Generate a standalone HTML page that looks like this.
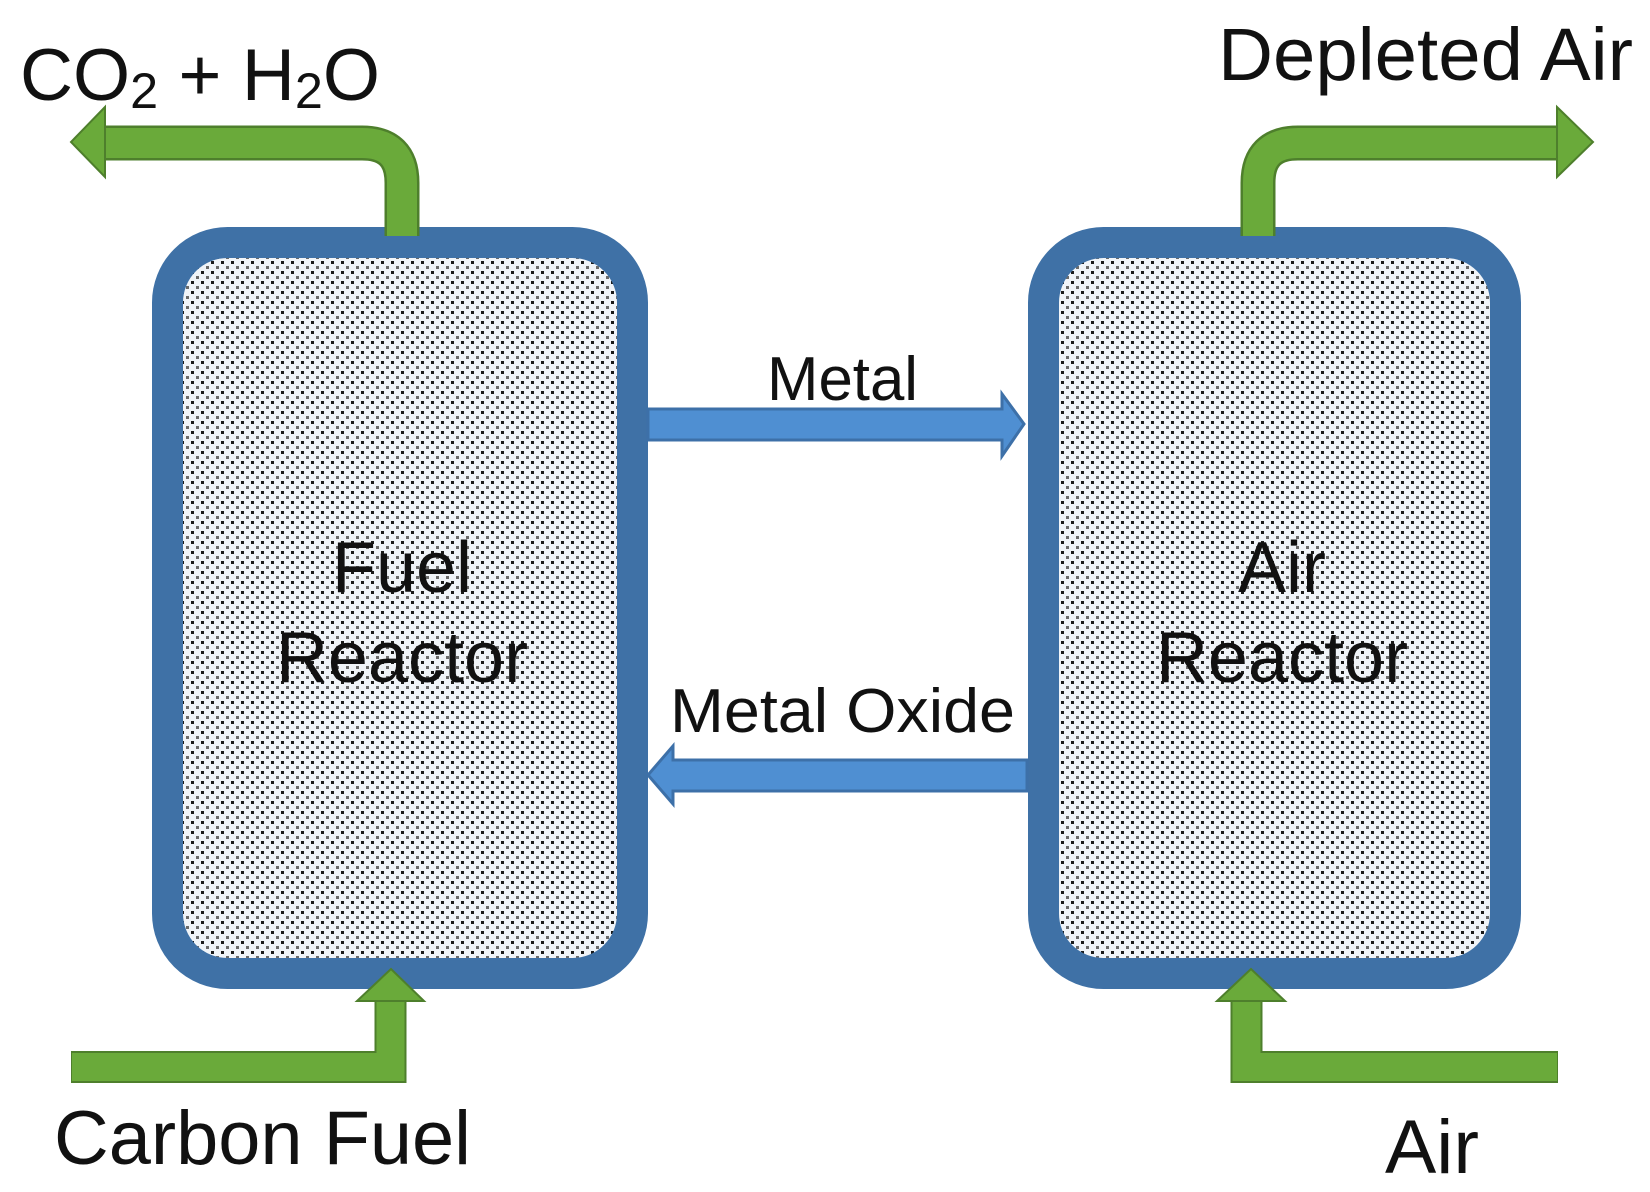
<!DOCTYPE html>
<html><head><meta charset="utf-8"><style>
html,body{margin:0;padding:0;background:#fff;}
svg{display:block;}
text{font-family:"Liberation Sans",Arial,sans-serif;fill:#111;}
</style></head><body>
<svg width="1650" height="1192" viewBox="0 0 1650 1192" xmlns="http://www.w3.org/2000/svg">
<defs>
<pattern id="dots" width="10" height="10" patternUnits="userSpaceOnUse">
<rect width="10" height="10" fill="#f0f4f8"/>
<rect x="1" y="1" width="3" height="3" fill="#1a1a1a"/>
<rect x="6" y="6" width="3" height="3" fill="#6a6a6a"/>
</pattern>
</defs>

<!-- Boxes -->
<rect x="167.5" y="242.5" width="465" height="731" rx="60" fill="url(#dots)" stroke="#3f71a6" stroke-width="31"/>
<rect x="1043.5" y="242.5" width="462" height="731" rx="60" fill="url(#dots)" stroke="#3f71a6" stroke-width="31"/>

<!-- Green arrows -->
<g fill="none" stroke-linejoin="miter">
<path d="M402 236 V183 Q402 143 362 143 H100" stroke="#4e7f2c" stroke-width="35"/>
<path d="M402 236 V183 Q402 143 362 143 H100" stroke="#6aaa3a" stroke-width="30"/>
<path d="M1258 236 V183 Q1258 143 1298 143 H1560" stroke="#4e7f2c" stroke-width="35"/>
<path d="M1258 236 V183 Q1258 143 1298 143 H1560" stroke="#6aaa3a" stroke-width="30"/>
<path d="M71 1067 H390.5 V998" stroke="#4e7f2c" stroke-width="32"/>
<path d="M72 1067 H390.5 V998" stroke="#6aaa3a" stroke-width="28"/>
<path d="M1558 1067 H1246.5 V998" stroke="#4e7f2c" stroke-width="32"/>
<path d="M1557 1067 H1246.5 V998" stroke="#6aaa3a" stroke-width="28"/>
</g>
<g fill="#6aaa3a" stroke="#4e7f2c" stroke-width="2">
<polygon points="105,107 71,142 105,177"/>
<polygon points="1557,107 1593,142 1557,177"/>
<polygon points="357,1001 424,1001 391,969"/>
<polygon points="1217,1001 1285,1001 1251,969"/>
</g>

<!-- Blue arrows -->
<g fill="#4f8fd2" stroke="#3d70a8" stroke-width="3">
<polygon points="648,409 1002,409 1002,394 1024,424 1002,456 1002,440 648,440"/>
<polygon points="1027,760 673,760 673,746 648,775 673,804 673,791 1027,791"/>
</g>

<!-- Labels -->
<text x="20" y="100" font-size="73" textLength="360" lengthAdjust="spacingAndGlyphs">CO<tspan font-size="50" dy="8">2</tspan><tspan dy="-8"> + H</tspan><tspan font-size="50" dy="8">2</tspan><tspan dy="-8">O</tspan></text>
<text x="1218" y="80" font-size="74" textLength="415" lengthAdjust="spacingAndGlyphs">Depleted Air</text>
<text x="767" y="400" font-size="62" textLength="151" lengthAdjust="spacingAndGlyphs">Metal</text>
<text x="670" y="732" font-size="62" textLength="345" lengthAdjust="spacingAndGlyphs">Metal Oxide</text>
<text x="402" y="592" font-size="72" text-anchor="middle">Fuel</text>
<text x="402" y="682" font-size="72" text-anchor="middle">Reactor</text>
<text x="1282" y="592" font-size="72" text-anchor="middle">Air</text>
<text x="1282" y="682" font-size="72" text-anchor="middle">Reactor</text>
<text x="54" y="1164" font-size="76" textLength="417" lengthAdjust="spacingAndGlyphs">Carbon Fuel</text>
<text x="1385" y="1173" font-size="76" textLength="94" lengthAdjust="spacingAndGlyphs">Air</text>
</svg>
</body></html>
